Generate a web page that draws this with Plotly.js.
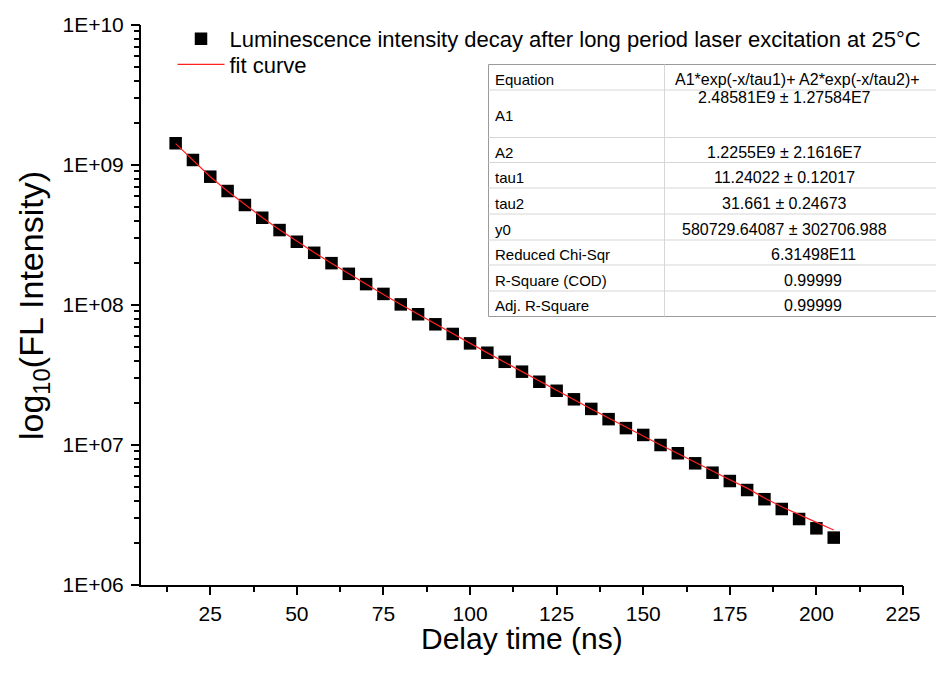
<!DOCTYPE html>
<html>
<head>
<meta charset="utf-8">
<script src="https://cdn.plot.ly/plotly-3.0.1.min.js"></script>
<style>html,body{margin:0;padding:0;background:#fff;}#chart{width:936px;height:675px;}</style>
</head>
<body>
<div id="chart"></div>
<script>
// ---- data ----
const delayTime = [15,20,25,30,35,40,45,50,55,60,65,70,75,80,85,90,95,100,105,110,115,120,125,130,135,140,145,150,155,160,165,170,175,180,185,190,195,200,205];
const intensity = [1.43e9,1.086e9,8.25e8,6.52e8,5.18e8,4.20e8,3.43e8,2.83e8,2.36e8,1.99e8,1.67e8,1.41e8,1.20e8,1.01e8,8.59e7,7.28e7,6.21e7,5.32e7,4.56e7,3.93e7,3.34e7,2.83e7,2.44e7,2.12e7,1.81e7,1.53e7,1.32e7,1.18e7,1.0e7,8.73e6,7.40e6,6.34e6,5.53e6,4.77e6,4.10e6,3.49e6,2.96e6,2.54e6,2.18e6];
const fitCurve = [1.42e9,1.08e9,8.25e8,6.5e8,5.2e8,4.22e8,3.45e8,2.85e8,2.37e8,1.99e8,1.67e8,1.41e8,1.19e8,1.01e8,8.6e7,7.3e7,6.22e7,5.3e7,4.55e7,3.9e7,3.34e7,2.86e7,2.46e7,2.11e7,1.81e7,1.56e7,1.34e7,1.16e7,1.0e7,8.7e6,7.5e6,6.5e6,5.65e6,4.92e6,4.18e6,3.62e6,3.17e6,2.8e6,2.47e6];
const xTickVals = [25,50,75,100,125,150,175,200,225];
const xTickText = ['25','50','75','100','125','150','175','200','225'];
const yTickVals = [1e6,1e7,1e8,1e9,1e10];
const yTickText = ['1E+06','1E+07','1E+08','1E+09','1E+10'];
const seriesNames = ['Luminescence intensity decay after long period laser excitation at 25°C','fit curve'];
const xTitle = 'Delay time (ns)';
const yTitle = 'log<sub>10</sub>(FL Intensity)';
const tableLabels = ['Equation','A1','A2','tau1','tau2','y0','Reduced Chi-Sqr','R-Square (COD)','Adj. R-Square'];
const tableValues = ['A1*exp(-x/tau1)+ A2*exp(-x/tau2)+','2.48581E9 ± 1.27584E7','1.2255E9 ± 2.1616E7','11.24022 ± 0.12017','31.661 ± 0.24673','580729.64087 ± 302706.988','6.31498E11','0.99999','0.99999'];

// ---- layout geometry ----
const FONT = 'Liberation Sans, Arial, sans-serif';
const CW = 936, CH = 675;
const M = {l:141, r:33, t:25, b:90, autoexpand:false};
const W = CW - M.l - M.r, H = CH - M.t - M.b;
const X_RANGE = [5, 225], Y_RANGE = [6, 10];
const px = x => (x - M.l) / W;
const py = y => 1 - (y - M.t) / H;

// all tick positions (major + minor) for the main axes; labels only on majors
const allX = [], allXText = [];
for (let v = 12.5; v <= X_RANGE[1]; v += 12.5) {
  allX.push(v);
  const j = xTickVals.indexOf(v);
  allXText.push(j >= 0 ? xTickText[j] : '');
}
const allY = [], allYText = [];
for (let e = Y_RANGE[0]; e <= Y_RANGE[1]; e++) {
  for (let k = 1; k <= 9; k++) {
    if (e === Y_RANGE[1] && k > 1) break;
    const v = k * Math.pow(10, e);
    allY.push(v);
    allYText.push(k === 1 ? yTickText[yTickVals.indexOf(Math.pow(10, e))] : '');
  }
}

const shapes = [];
const annotations = [];

// table
const tL = 488.5, tDiv = 664.5, tR = 990;
const rowEdges = [64.5, 90, 137.5, 162.5, 188, 214, 240, 265, 291, 316.5];
shapes.push({type:'rect', xref:'paper', yref:'paper', x0:px(tL), x1:px(tR), y0:py(rowEdges[rowEdges.length-1]), y1:py(rowEdges[0]), fillcolor:'#ffffff', line:{color:'#9a9a9a', width:1}, layer:'above'});
for (let i = 1; i < rowEdges.length - 1; i++) {
  shapes.push({type:'line', xref:'paper', yref:'paper', x0:px(tL), x1:px(tR), y0:py(rowEdges[i]), y1:py(rowEdges[i]), line:{color:'#d6d6d6', width:1}, layer:'above'});
}
shapes.push({type:'line', xref:'paper', yref:'paper', x0:px(tDiv), x1:px(tDiv), y0:py(rowEdges[0]), y1:py(rowEdges[rowEdges.length-1]), line:{color:'#d6d6d6', width:1}, layer:'above'});
tableLabels.forEach((lab, i) => {
  const top = rowEdges[i], bot = rowEdges[i+1];
  const mid = (top + bot) / 2 + 2;
  annotations.push({xref:'paper', yref:'paper', x:px(493), y:py(mid), xanchor:'left', yanchor:'middle', text:lab, showarrow:false, font:{family:FONT, size:15, color:'#000'}});
  const v = tableValues[i];
  let cx = v.indexOf('±') >= 0 ? 784 : 813;
  if (i === 0) cx = 797;
  const vy = (i === 1) ? top + 8 : mid;
  annotations.push({xref:'paper', yref:'paper', x:px(cx), y:py(vy), xanchor:'center', yanchor:'middle', text:v, showarrow:false, font:{family:FONT, size:16, color:'#000'}});
});
// axis titles as annotations (precise placement)
annotations.push({xref:'paper', yref:'paper', x:px(33), y:py(306), xanchor:'center', yanchor:'middle', textangle:-90, text:yTitle, showarrow:false, font:{family:FONT, size:34, color:'#000'}});
annotations.push({xref:'paper', yref:'paper', x:px(522), y:py(638), xanchor:'center', yanchor:'middle', text:xTitle, showarrow:false, font:{family:FONT, size:30, color:'#000'}});

const traces = [
  {x: delayTime, y: intensity, type:'scatter', mode:'markers', name: seriesNames[0], legend:'legend',
   marker:{symbol:'square', size:12.5, color:'#000000', line:{width:0}}},
  // fit curve on overlay axes (identical ranges) that carry the longer major ticks
  {x: delayTime, y: fitCurve, type:'scatter', mode:'lines', name: seriesNames[1], legend:'legend2',
   xaxis:'x2', yaxis:'y2', line:{color:'#ff2020', width:1.2}}
];

const tickBase = {ticks:'outside', tickwidth:2, tickcolor:'#000', showgrid:false, zeroline:false};
const legendBase = {xanchor:'left', yanchor:'top', font:{family:FONT, size:22, color:'#000'}, bgcolor:'rgba(0,0,0,0)', borderwidth:0, itemwidth:47};

const layout = {
  width:CW, height:CH,
  margin:M,
  paper_bgcolor:'#ffffff', plot_bgcolor:'#ffffff',
  font:{family:FONT, color:'#000'},
  showlegend:true,
  legend:Object.assign({x:px(172.5), y:py(18)}, legendBase),
  legend2:Object.assign({x:px(172.5), y:py(43.5)}, legendBase),
  xaxis:Object.assign({range:X_RANGE, tickmode:'array', tickvals:allX, ticktext:allXText, ticklen:5, ticklabelstandoff:4,
         showline:true, linewidth:2, linecolor:'#000',
         tickfont:{family:FONT, size:21, color:'#000'}}, tickBase),
  yaxis:Object.assign({type:'log', range:Y_RANGE, tickmode:'array', tickvals:allY, ticktext:allYText, ticklen:5, ticklabelstandoff:6,
         showline:true, linewidth:2, linecolor:'#000',
         tickfont:{family:FONT, size:21, color:'#000'}}, tickBase),
  xaxis2:Object.assign({overlaying:'x', anchor:'y2', side:'bottom', range:X_RANGE, tickmode:'array', tickvals:xTickVals, ticklen:9,
         showticklabels:false, showline:false}, tickBase),
  yaxis2:Object.assign({type:'log', overlaying:'y', anchor:'x2', side:'left', range:Y_RANGE, tickmode:'array', tickvals:yTickVals, ticklen:9,
         showticklabels:false, showline:false}, tickBase),
  shapes: shapes,
  annotations: annotations
};

Plotly.newPlot('chart', traces, layout, {displayModeBar:false, staticPlot:true});
</script>
</body>
</html>
